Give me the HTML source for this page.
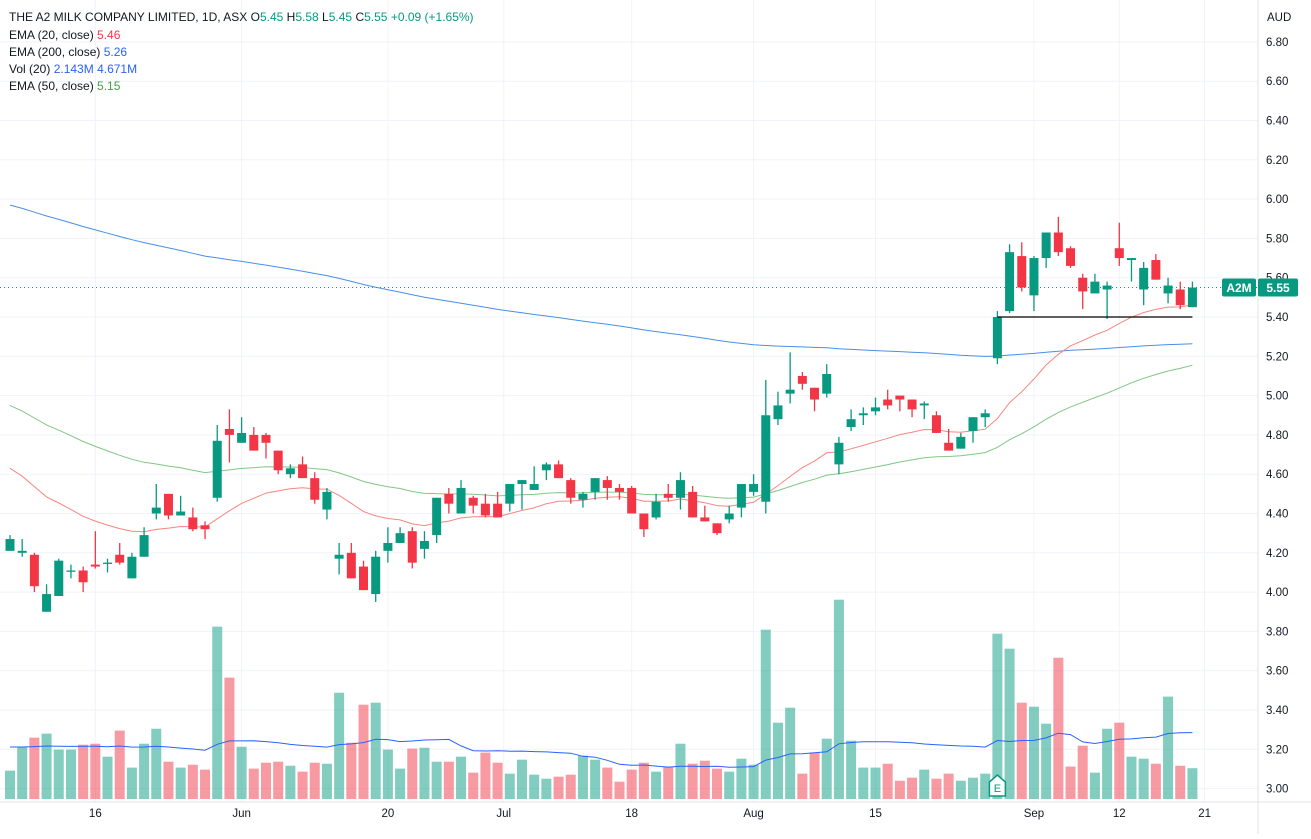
<!DOCTYPE html>
<html><head><meta charset="utf-8">
<style>
html,body{margin:0;padding:0;background:#fff;}
body{width:1311px;height:834px;overflow:hidden;font-family:"Liberation Sans",sans-serif;}
svg text{font-family:"Liberation Sans",sans-serif;}
</style></head>
<body>
<svg id="chart" width="1311" height="834" viewBox="0 0 1311 834" xmlns="http://www.w3.org/2000/svg">
<rect x="0" y="0" width="1311" height="834" fill="#ffffff"/>
<g id="grid"></g>
<g id="volume"></g>
<g id="lines"></g>
<g id="candles"></g>
<g id="overlay"></g>
<g id="axes"></g>
<g id="legend">
  <text x="9" y="21" font-size="12" fill="#131722">THE A2 MILK COMPANY LIMITED, 1D, ASX <tspan fill="#131722">O</tspan><tspan fill="#089981">5.45</tspan> <tspan fill="#131722">H</tspan><tspan fill="#089981">5.58</tspan> <tspan fill="#131722">L</tspan><tspan fill="#089981">5.45</tspan> <tspan fill="#131722">C</tspan><tspan fill="#089981">5.55</tspan> <tspan fill="#089981">+0.09 (+1.65%)</tspan></text>
  <text x="9" y="39" font-size="12" fill="#131722">EMA (20, close) <tspan fill="#f23645">5.46</tspan></text>
  <text x="9" y="56" font-size="12" fill="#131722">EMA (200, close) <tspan fill="#2962ff">5.26</tspan></text>
  <text x="9" y="73" font-size="12" fill="#131722">Vol (20) <tspan fill="#2962ff">2.143M</tspan> <tspan fill="#2962ff">4.671M</tspan></text>
  <text x="9" y="90" font-size="12" fill="#131722">EMA (50, close) <tspan fill="#43a047">5.15</tspan></text>
</g>
</svg>
<script>
const opens=[4.21,4.20,4.19,3.90,3.98,4.11,4.11,4.14,4.15,4.19,4.07,4.18,4.40,4.50,4.39,4.38,4.34,4.48,4.83,4.76,4.80,4.80,4.72,4.60,4.65,4.58,4.42,4.17,4.20,4.13,3.99,4.21,4.25,4.31,4.22,4.29,4.50,4.40,4.48,4.45,4.45,4.45,4.55,4.52,4.62,4.65,4.57,4.47,4.51,4.57,4.53,4.53,4.40,4.38,4.50,4.48,4.51,4.38,4.35,4.37,4.43,4.51,4.46,4.88,5.01,5.10,5.04,5.01,4.65,4.84,4.90,4.92,4.98,5.00,4.98,4.95,4.90,4.76,4.73,4.82,4.89,5.19,5.43,5.71,5.51,5.70,5.83,5.75,5.60,5.52,5.54,5.75,5.69,5.54,5.69,5.52,5.54,5.45];
const highs=[4.29,4.27,4.20,4.04,4.17,4.14,4.13,4.31,4.17,4.25,4.20,4.33,4.55,4.50,4.49,4.43,4.36,4.85,4.93,4.89,4.84,4.81,4.72,4.65,4.69,4.61,4.53,4.25,4.25,4.16,4.21,4.33,4.33,4.33,4.31,4.48,4.53,4.57,4.49,4.50,4.51,4.55,4.57,4.64,4.66,4.67,4.58,4.51,4.58,4.59,4.55,4.54,4.40,4.50,4.55,4.61,4.54,4.44,4.35,4.44,4.55,4.60,5.08,5.02,5.22,5.12,5.04,5.16,4.79,4.93,4.94,4.99,5.03,5.00,4.98,4.97,4.92,4.83,4.81,4.89,4.93,5.43,5.77,5.78,5.71,5.83,5.91,5.76,5.62,5.62,5.58,5.88,5.70,5.68,5.72,5.60,5.58,5.58];
const lows=[4.21,4.18,4.00,3.90,3.98,4.07,4.00,4.12,4.10,4.14,4.07,4.18,4.37,4.37,4.39,4.31,4.27,4.46,4.66,4.76,4.72,4.68,4.60,4.58,4.58,4.45,4.37,4.09,4.07,4.01,3.95,4.15,4.25,4.12,4.17,4.25,4.40,4.40,4.40,4.38,4.38,4.41,4.42,4.52,4.57,4.58,4.45,4.43,4.47,4.47,4.47,4.40,4.28,4.37,4.46,4.42,4.38,4.36,4.29,4.35,4.38,4.49,4.40,4.85,4.96,5.03,4.92,4.99,4.60,4.82,4.85,4.90,4.93,4.92,4.89,4.88,4.81,4.72,4.73,4.76,4.84,5.16,5.42,5.53,5.43,5.65,5.71,5.65,5.44,5.52,5.39,5.66,5.58,5.46,5.59,5.47,5.44,5.45];
const closes=[4.27,4.21,4.03,3.99,4.16,4.11,4.05,4.13,4.15,4.15,4.18,4.29,4.43,4.39,4.41,4.32,4.32,4.77,4.80,4.81,4.72,4.76,4.62,4.63,4.58,4.47,4.51,4.19,4.07,4.01,4.18,4.25,4.30,4.15,4.26,4.48,4.45,4.53,4.44,4.39,4.38,4.55,4.57,4.55,4.65,4.58,4.48,4.50,4.58,4.53,4.51,4.40,4.32,4.46,4.48,4.57,4.38,4.36,4.30,4.40,4.55,4.55,4.90,4.95,5.03,5.06,4.98,5.11,4.76,4.88,4.91,4.94,4.95,4.98,4.93,4.96,4.81,4.72,4.79,4.89,4.91,5.40,5.73,5.55,5.70,5.83,5.73,5.66,5.53,5.58,5.56,5.70,5.70,5.65,5.59,5.56,5.46,5.55];
const volumes=[1.97,3.63,4.26,4.54,3.43,3.43,3.77,3.84,2.94,4.75,2.18,3.84,4.88,2.59,2.18,2.38,2.04,11.97,8.43,3.63,2.11,2.52,2.59,2.31,1.90,2.52,2.45,7.38,3.91,6.55,6.69,3.43,2.11,3.50,3.56,2.59,2.59,2.94,1.83,3.22,2.52,1.76,2.73,1.69,1.41,1.55,1.69,3.01,2.73,2.18,1.20,2.04,2.52,1.90,2.25,3.84,2.45,2.66,2.11,1.90,2.80,2.38,11.76,5.30,6.34,1.76,3.22,4.19,13.84,4.05,2.18,2.18,2.45,1.27,1.48,2.04,1.41,1.76,1.27,1.48,1.76,11.48,10.44,6.69,6.41,5.23,9.81,2.25,3.70,1.83,4.88,5.30,2.94,2.80,2.45,7.11,2.31,2.14];
const priceTicks=["6.80","6.60","6.40","6.20","6.00","5.80","5.60","5.40","5.20","5.00","4.80","4.60","4.40","4.20","4.00","3.80","3.60","3.40","3.20","3.00"];
const dateLabels=["16","Jun","20","Jul","18","Aug","15","Sep","12","21"];
const dateIndex=[7,19,31,40.5,51,61,71,84,91,98];
const emaSeed20=4.63, emaSeed50=4.95, emaSeed200=5.97, volSeed=3.7;
const supportLevel=5.40, supportFrom=81, lastPrice=5.55;

const NS="http://www.w3.org/2000/svg";
const PLOT_R=1258;
const xScale=i=>10+i*12.19;
const yScale=p=>317-(p-5.4)*196.5;
const vScale=v=>799-v*14.4;
const GREEN="#089981",RED="#f23645";
function mk(tag,attrs,parent){const e=document.createElementNS(NS,tag);for(const k in attrs)e.setAttribute(k,attrs[k]);parent.appendChild(e);return e;}

const grid=document.getElementById('grid');
priceTicks.forEach(t=>{
  const y=yScale(parseFloat(t));
  const l=mk('line',{x1:0,x2:PLOT_R,y1:y,y2:y,stroke:'#f0f3fa','stroke-width':1},grid);
  
  
});
dateIndex.forEach(i=>{
  const x=xScale(i);
  const l=mk('line',{x1:x,x2:x,y1:0,y2:802,stroke:'#f0f3fa','stroke-width':1},grid);
  
  
});

// volume
const vg=document.getElementById('volume');
volumes.forEach((v,i)=>{
  const up=closes[i]>=opens[i];
  const y=vScale(v);
  const r=mk('rect',{x:xScale(i)-5,y:y,width:10,height:799-y,fill:up?'rgba(8,153,129,0.5)':'rgba(242,54,69,0.5)'},vg);
  
  
});
// vol MA
const volMA=volumes.map((v,i)=>{let s=0;for(let k=i-19;k<=i;k++)s+=k>=0?volumes[k]:volSeed;return s/20;});
function poly(vals,sc,color,name,w){
  const pts=vals.map((v,i)=>xScale(i).toFixed(1)+','+sc(v).toFixed(1)).join(' ');
  const p=mk('polyline',{points:pts,fill:'none',stroke:color,'stroke-width':w||1},document.getElementById('lines'));
  
  
}
poly(volMA,vScale,'#2962ff','volume-ma-line');
function ema(seed,n){const a=2/(n+1);let e=seed;return closes.map((c,i)=>{if(i>0)e=e+a*(c-e);else e=seed;return e;});}
poly(ema(emaSeed200,200),yScale,'#4a8fe7','ema200-line');
poly(ema(emaSeed50,50),yScale,'#81c784','ema50-line');
poly(ema(emaSeed20,20),yScale,'#f7867f','ema20-line');

// candles
const cg=document.getElementById('candles');
opens.forEach((o,i)=>{
  const c=closes[i],up=c>=o,col=up?GREEN:RED,x=xScale(i);
  const g=mk('g',{},cg);
  
  
  mk('line',{x1:x,x2:x,y1:yScale(highs[i]),y2:yScale(lows[i]),stroke:col,'stroke-width':1.3},g);
  const top=yScale(Math.max(o,c)),bot=yScale(Math.min(o,c));
  mk('rect',{x:x-4.5,y:top,width:9,height:Math.max(1.3,bot-top),fill:col},g);
});

// overlay
const ov=document.getElementById('overlay');
const sy=yScale(supportLevel);
const sl=mk('line',{x1:xScale(supportFrom),x2:xScale(opens.length-1),y1:sy,y2:sy,stroke:'#000','stroke-width':1.3},ov);


const ly=yScale(lastPrice);
const dl=mk('line',{x1:0,x2:PLOT_R,y1:ly,y2:ly,stroke:GREEN,'stroke-width':1,'stroke-dasharray':'1 3'},ov);


// earnings marker
const em=mk('g',{},ov);


const ex=xScale(81);
mk('path',{d:`M${ex-8} 796 L${ex-8} 782 L${ex} 775 L${ex+8} 782 L${ex+8} 796 Z`,fill:'#fff',stroke:GREEN,'stroke-width':1.5},em);
const et=mk('text',{x:ex,y:792,'font-size':11,fill:GREEN,'text-anchor':'middle'},em);et.textContent='E';

// axes
const ax=document.getElementById('axes');
mk('rect',{x:PLOT_R,y:0,width:1311-PLOT_R,height:834,fill:'#fff'},ax);
mk('line',{x1:PLOT_R,x2:PLOT_R,y1:0,y2:834,stroke:'#e0e3eb','stroke-width':1},ax);
mk('line',{x1:0,x2:1311,y1:802,y2:802,stroke:'#e0e3eb','stroke-width':1},ax);
const aud=mk('text',{x:1267,y:21,'font-size':11.5,fill:'#131722'},ax);aud.textContent='AUD';


priceTicks.forEach(t=>{
  const tx=mk('text',{x:1266,y:yScale(parseFloat(t))+4,'font-size':11.5,fill:'#131722'},ax);
  tx.textContent=t;
  
  
});
dateLabels.forEach((d,k)=>{
  const tx=mk('text',{x:xScale(dateIndex[k]),y:817,'font-size':11.5,fill:'#131722','text-anchor':'middle'},ax);
  tx.textContent=d;
  
  
});
// last price badges
const b1=mk('g',{},ax);


mk('rect',{x:1222,y:ly-9,width:34,height:18,rx:2,fill:GREEN},b1);
const bt1=mk('text',{x:1239,y:ly+4.5,'font-size':12,'font-weight':'bold',fill:'#fff','text-anchor':'middle'},b1);bt1.textContent='A2M';
const b2=mk('g',{},ax);


mk('rect',{x:1258,y:ly-9,width:40,height:18,rx:2,fill:GREEN},b2);
const bt2=mk('text',{x:1278,y:ly+4.5,'font-size':12,'font-weight':'bold',fill:'#fff','text-anchor':'middle'},b2);bt2.textContent=lastPrice.toFixed(2);
</script>
</body></html>
